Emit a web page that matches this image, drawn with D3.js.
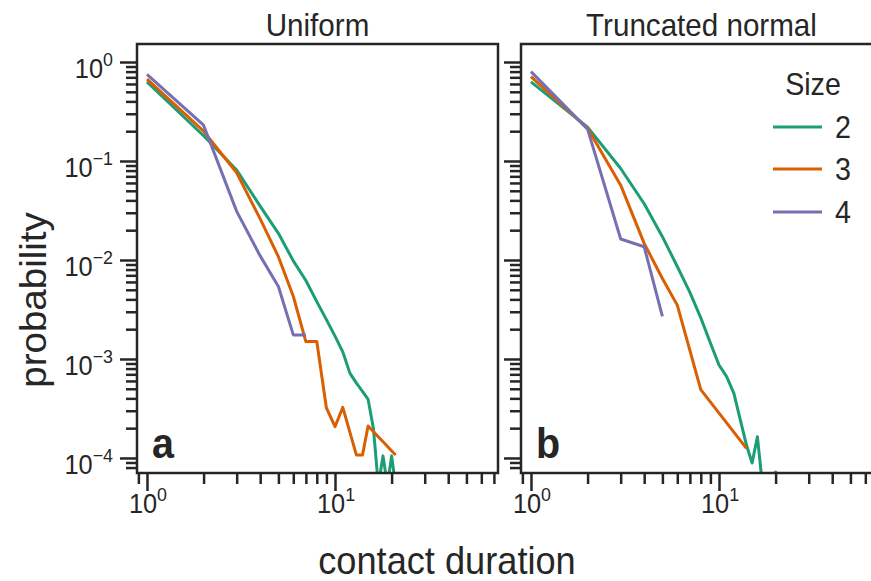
<!DOCTYPE html>
<html>
<head>
<meta charset="utf-8">
<script src="https://cdn.jsdelivr.net/npm/d3@7"></script>
<style>
  body { margin: 0; background: #fff; }
  text { font-family: "Liberation Sans", Arial, Helvetica, sans-serif; fill: #262626; }
</style>
</head>
<body>
<svg id="chart" width="871" height="581"></svg>
<script>
// ---- data ----
const panelTitles = ["Uniform", "Truncated normal"];
const panelLetters = ["a", "b"];
const sizes = ["2", "3", "4"];
const colors = ["#1b9e77", "#d95f02", "#7570b3"];

// Uniform panel
const uniSize2X = [1, 2, 3, 4, 5, 6, 7, 8, 9, 10, 11, 12, 13, 14, 15, 16, 17, 18, 19, 20, 21, 22];
const uniSize2Y = [0.63, 0.18, 0.081, 0.035, 0.0186, 0.0098, 0.0062, 0.0038, 0.0025, 0.0017, 0.00118, 0.00072, 0.00057, 0.00047, 0.00039, 0.00020, 0.000053, 0.000105, 0.000053, 0.000105, 0.000053, 0.000072];
const uniSize3X = [1, 2, 3, 4, 5, 6, 7, 8, 9, 10, 11, 13, 14, 15, 21];
const uniSize3Y = [0.67, 0.20, 0.076, 0.026, 0.0108, 0.0043, 0.0015, 0.0015, 0.00032, 0.000207, 0.000325, 0.000107, 0.000107, 0.00021, 0.000107];
const uniSize4X = [1, 2, 3, 4, 5, 6, 7];
const uniSize4Y = [0.75, 0.23, 0.031, 0.011, 0.0054, 0.00175, 0.00175];

// Truncated normal panel
const truncSize2X = [1, 2, 3, 4, 5, 6, 7, 8, 9, 10, 11, 12, 13, 14, 15, 16, 17, 20, 21];
const truncSize2Y = [0.63, 0.22, 0.084, 0.037, 0.0172, 0.0086, 0.0047, 0.0026, 0.00145, 0.00087, 0.00066, 0.00045, 0.00024, 0.000135, 0.000089, 0.000164, 0.000055, 0.000072, 0.000055];
const truncSize3X = [1, 2, 3, 4, 5, 6, 8, 14];
const truncSize3Y = [0.71, 0.214, 0.057, 0.0147, 0.0065, 0.0035, 0.00049, 0.000125];
const truncSize4X = [1, 2, 3, 4, 5];
const truncSize4Y = [0.80, 0.21, 0.0163, 0.0136, 0.0027];

const xMajorTicks = [1, 10];
const xMinorTicks = [0.9, 2, 3, 4, 5, 6, 7, 8, 9, 20, 30, 40, 50, 60, 70];
const yMajorTicks = [1, 0.1, 0.01, 0.001, 0.0001];
const yMinorTicks = [];
[1, 0.1, 0.01, 0.001, 0.0001].forEach(d => { for (let k = 2; k <= 9; k++) yMinorTicks.push(d * k / 10); });
const xTickExp = ["0", "1"];
const yTickExp = ["0", "\u22121", "\u22122", "\u22123", "\u22124"];
const xLabel = "contact duration";
const yLabel = "probability";
const legendTitle = "Size";

// ---- layout ----
const svg = d3.select("#chart");
const plotTop = 44, plotBottom = 473;
const SX = 0.94; // horizontal squeeze of the text seen in the reference
const panels = [
  { x0: 137, x1: 498, series: [[uniSize2X, uniSize2Y], [uniSize3X, uniSize3Y], [uniSize4X, uniSize4Y]] },
  { x0: 521, x1: 882, series: [[truncSize2X, truncSize2Y], [truncSize3X, truncSize3Y], [truncSize4X, truncSize4Y]] }
];
const ink = "#262626";

function txt(parent, x, y, size, anchor) {
  return parent.append("text")
    .attr("transform", `translate(${x},${y}) scale(${SX},1)`)
    .attr("text-anchor", anchor || "start")
    .style("font-size", size + "px");
}

panels.forEach((p, pi) => {
  const x = d3.scaleLog().domain([0.885, 73.6]).range([p.x0, p.x1]);
  const y = d3.scaleLog().domain([1.52, 7.05e-5]).range([plotTop, plotBottom]);
  const g = svg.append("g");

  const clipId = "clip" + pi;
  svg.append("clipPath").attr("id", clipId)
    .append("rect").attr("x", p.x0).attr("y", plotTop).attr("width", p.x1 - p.x0).attr("height", plotBottom - plotTop);

  // lines
  const line = d3.line().x(d => x(d[0])).y(d => y(d[1]));
  const lg = g.append("g").attr("clip-path", `url(#${clipId})`);
  p.series.forEach((s, si) => {
    const pts = s[0].map((xv, i) => [xv, s[1][i]]);
    lg.append("path").datum(pts).attr("d", line)
      .attr("fill", "none").attr("stroke", colors[si]).attr("stroke-width", 3)
      .attr("stroke-linejoin", "round").attr("stroke-linecap", "butt");
  });

  // x axis
  const xMaj = d3.axisBottom(x).tickValues(xMajorTicks).tickSize(18).tickFormat("");
  const xMin = d3.axisBottom(x).tickValues(xMinorTicks).tickSize(11).tickFormat("");
  [xMaj, xMin].forEach(ax => {
    const a = g.append("g").attr("transform", `translate(0,${plotBottom})`).call(ax);
    a.select(".domain").remove();
    a.selectAll("line").attr("stroke", ink).attr("stroke-width", 2.5);
  });
  // y axis
  const yMaj = d3.axisLeft(y).tickValues(yMajorTicks).tickSize(17).tickFormat("");
  const yMin = d3.axisLeft(y).tickValues(yMinorTicks.filter(v => v >= 7.05e-5 && v <= 1.52)).tickSize(11).tickFormat("");
  [yMaj, yMin].forEach(ax => {
    const a = g.append("g").attr("transform", `translate(${p.x0},0)`).call(ax);
    a.select(".domain").remove();
    a.selectAll("line").attr("stroke", ink).attr("stroke-width", 2.5);
  });

  // x tick labels
  xMajorTicks.forEach((v, i) => {
    const t = txt(g, x(v) + 1, plotBottom + 40, 27, "middle");
    t.append("tspan").text("10");
    t.append("tspan").attr("dy", -12).style("font-size", "19px").text(xTickExp[i]);
  });
  // y tick labels (left panel only)
  if (pi === 0) {
    yMajorTicks.forEach((v, i) => {
      const t = txt(g, p.x0 - 24, y(v) + 16, 27, "end");
      t.append("tspan").text("10");
      t.append("tspan").attr("dy", -12).style("font-size", "19px").text(yTickExp[i]);
    });
  }

  // frame
  g.append("rect").attr("x", p.x0).attr("y", plotTop).attr("width", p.x1 - p.x0).attr("height", plotBottom - plotTop)
    .attr("fill", "none").attr("stroke", ink).attr("stroke-width", 2.5);

  // title
  txt(g, (p.x0 + p.x1) / 2, 36, 31.5, "middle").text(panelTitles[pi]);
  // panel letter
  txt(g, p.x0 + 15, 458, 42).style("font-weight", "bold").text(panelLetters[pi]);
});

// axis labels
txt(svg, 447, 574, 38.5, "middle").text(xLabel);
svg.append("text").attr("transform", `translate(46,300) scale(${SX},1) rotate(-90)`).attr("text-anchor", "middle")
  .style("font-size", "38.5px").text(yLabel);

// legend
const lgd = svg.append("g");
txt(lgd, 813, 95, 30.5, "middle").text(legendTitle);
sizes.forEach((s, i) => {
  const ly = [127, 169, 212][i];
  lgd.append("line").attr("x1", 773).attr("x2", 822).attr("y1", ly).attr("y2", ly)
    .attr("stroke", colors[i]).attr("stroke-width", 3);
  txt(lgd, 835, ly + 11, 30.5).text(s);
});
</script>
</body>
</html>
